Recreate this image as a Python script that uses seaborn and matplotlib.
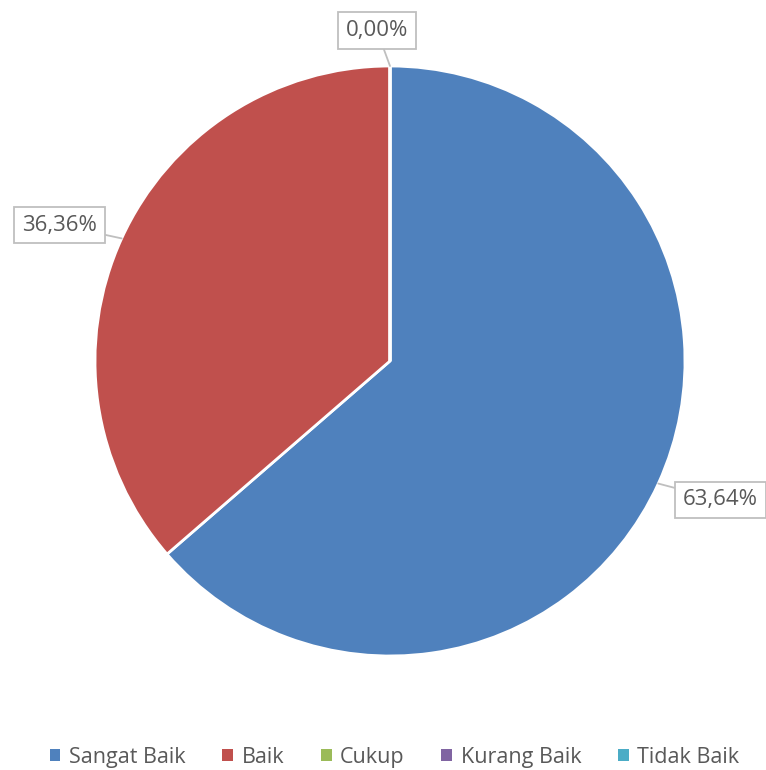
import numpy as np
import matplotlib
matplotlib.use("Agg")
import matplotlib.pyplot as plt
import seaborn as sns
from matplotlib.patches import Patch

categories = ["Sangat Baik", "Baik", "Cukup", "Kurang Baik", "Tidak Baik"]
values = [63.64, 36.36, 0.0, 0.0, 0.0]
colors = ["#4F81BD", "#C0504D", "#9BBB59", "#8064A2", "#4BACC6"]
# label for each shown slice and where its box sits (data coords, pie radius = 1)
label_text = ["63,64%", "36,36%", "0,00%"]
label_pos = [(1.12, -0.471), (-1.12, 0.461), (-0.044, 1.12)]

sns.set_theme(style="white")
plt.rcParams["font.family"] = ["Open Sans", "DejaVu Sans"]

W, H = 766, 770
fig = plt.figure(figsize=(W / 100, H / 100), dpi=100)
cx, cy, r = 390, 361, 295
ax = fig.add_axes([(cx - r) / W, (H - cy - r) / H, 2 * r / W, 2 * r / H])

wedges, _ = ax.pie(values, colors=colors, startangle=90, counterclock=False,
                   radius=1, wedgeprops=dict(edgecolor="white", linewidth=2))
ax.set_xlim(-1, 1)
ax.set_ylim(-1, 1)
ax.set_aspect("equal")
ax.axis("off")

# edge points of the label anchors
cum = np.cumsum([0] + values[:2])
anchors = []
for i in range(2):
    mid = 90 - (cum[i] + values[i] / 2) * 3.6
    anchors.append((np.cos(np.radians(mid)), np.sin(np.radians(mid))))
anchors.append((0.0, 1.0))

for txt, pos, xy in zip(label_text, label_pos, anchors):
    ax.annotate(txt, xy=xy, xytext=pos, ha="center", va="center",
                fontsize=16, color="#595959", annotation_clip=False,
                bbox=dict(boxstyle="square,pad=0.35", fc="white", ec="#BFBFBF", lw=1.3),
                arrowprops=dict(arrowstyle="-", color="#BFBFBF", lw=1.3,
                                shrinkA=0, shrinkB=0))

handles = [Patch(facecolor=c, edgecolor="none") for c in colors]
fig.legend(handles, categories, loc="lower center", ncol=5, frameon=False,
           bbox_to_anchor=(0.515, -0.022), fontsize=15.5, handlelength=0.5,
           handleheight=0.5, handletextpad=0.4, columnspacing=1.7,
           labelcolor="#595959")

fig.savefig("out.png", dpi=100)
